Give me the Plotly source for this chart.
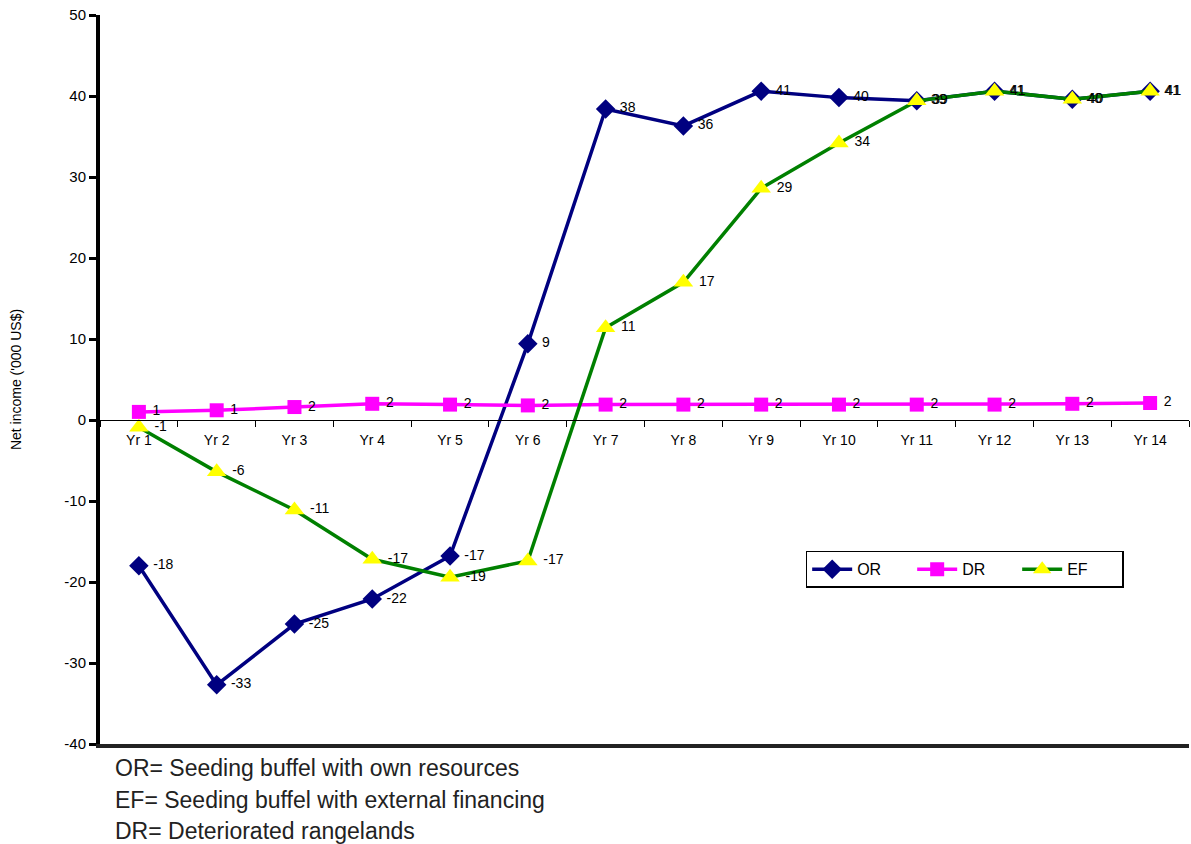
import plotly.graph_objects as go

years = ["Yr 1", "Yr 2", "Yr 3", "Yr 4", "Yr 5", "Yr 6", "Yr 7",
         "Yr 8", "Yr 9", "Yr 10", "Yr 11", "Yr 12", "Yr 13", "Yr 14"]
or_vals = [-18.0, -32.7, -25.2, -22.1, -16.8, 9.4, 38.4, 36.3, 40.6, 39.8, 39.4, 40.6, 39.6, 40.6]
dr_vals = [1.0, 1.2, 1.6, 2.0, 1.9, 1.8, 1.9, 1.9, 1.9, 1.9, 1.9, 1.9, 2.0, 2.1]
ef_vals = [-0.9, -6.4, -11.1, -17.2, -19.4, -17.4, 11.4, 17.0, 28.6, 34.2, 39.4, 40.6, 39.6, 40.6]
y_min, y_max = -40, 50
y_ticks = [-40, -30, -20, -10, 0, 10, 20, 30, 40, 50]
y_tick_text = ["-40", "-30", "-20", "-10", "0", "10", "20", "30", "40", "50"]
notes = ["OR= Seeding buffel with own resources",
         "EF= Seeding buffel with external financing",
         "DR= Deteriorated rangelands"]

font_main = "Liberation Sans, Arial, sans-serif"

def lbl(vals):
    return ["\u00a0" + f"{int(round(v))}" for v in vals]

fig = go.Figure()
fig.add_trace(go.Scatter(
    x=years, y=or_vals, name="OR", mode="lines+markers+text",
    line=dict(color="#000080", width=3.5),
    marker=dict(symbol="diamond", size=15, color="#000080"),
    text=lbl(or_vals), textposition="middle right",
    textfont=dict(size=14, color="black", family=font_main)))
fig.add_trace(go.Scatter(
    x=years, y=dr_vals, name="DR", mode="lines+markers+text",
    line=dict(color="#FF00FF", width=3.5),
    marker=dict(symbol="square", size=14, color="#FF00FF"),
    text=lbl(dr_vals), textposition="middle right",
    textfont=dict(size=14, color="black", family=font_main)))
fig.add_trace(go.Scatter(
    x=years, y=ef_vals, name="EF", mode="lines+markers+text",
    line=dict(color="#008000", width=3.5),
    marker=dict(symbol="triangle-up", size=17, color="#FFFF00"),
    text=lbl(ef_vals), textposition="middle right",
    textfont=dict(size=14, color="black", family=font_main)))

zero_pos = (0 - y_min) / (y_max - y_min)

fig.update_layout(
    width=1191, height=844,
    margin=dict(l=100, r=2, t=15, b=100, autoexpand=False),
    paper_bgcolor="white", plot_bgcolor="white",
    font=dict(family=font_main, size=14, color="black"),
    xaxis=dict(
        type="category", categoryorder="array", categoryarray=years,
        range=[-0.5, len(years) - 0.5],
        anchor="free", position=zero_pos,
        showline=True, linecolor="black", linewidth=1,
        ticks="outside", tickson="boundaries", ticklen=6, tickcolor="black",
        ticklabelstandoff=7,
        showgrid=False, zeroline=False,
        tickfont=dict(size=14, family=font_main)),
    xaxis2=dict(
        overlaying="x", anchor="y", side="bottom",
        range=[0, 1], showline=True, linecolor="#222222", linewidth=4,
        showticklabels=False, ticks="", showgrid=False, zeroline=False),
    yaxis=dict(
        range=[y_min, y_max], tickvals=y_ticks, ticktext=y_tick_text,
        showline=True, linecolor="black", linewidth=4,
        ticks="outside", ticklen=7, tickwidth=3, tickcolor="black",
        showgrid=False, zeroline=False,
        tickfont=dict(size=15, family=font_main),
        title=dict(text="Net income ('000 US$)", font=dict(size=14), standoff=40)),
    legend=dict(
        orientation="h", x=0.648, y=0.265, xanchor="left", yanchor="top",
        bordercolor="black", borderwidth=1.5, bgcolor="white",
        font=dict(size=16, family=font_main),
        entrywidth=50, itemwidth=40,
        tracegroupgap=0),
    showlegend=True,
)

# invisible trace to create the bottom axis line
fig.add_trace(go.Scatter(x=[0, 1], y=[y_min, y_min], xaxis="x2", mode="none",
                         showlegend=False, hoverinfo="skip"))

for i, t in enumerate(notes):
    fig.add_annotation(
        text=t, xref="paper", yref="paper", x=(113 - 100) / 1089,
        y=-(24 + i * 31.5) / 729, xanchor="left", yanchor="middle",
        showarrow=False,
        font=dict(size=23, family="Liberation Sans Narrow, Arial Narrow, sans-serif", color="#222222"))

fig.write_html("out.html")
